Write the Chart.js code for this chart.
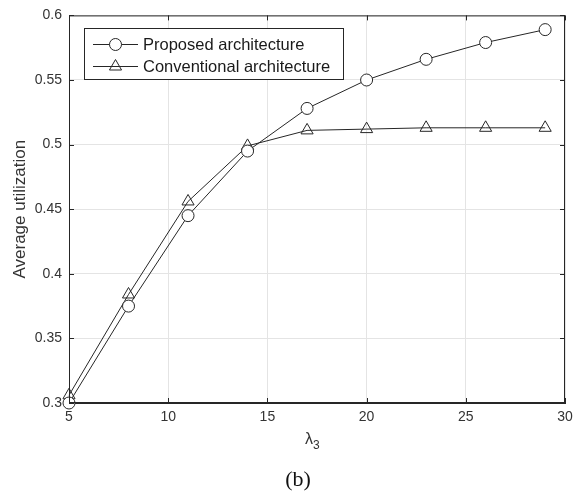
<!DOCTYPE html>
<html>
<head>
<meta charset="utf-8">
<script src="https://cdn.jsdelivr.net/npm/chart.js@4.4.1/dist/chart.umd.min.js"></script>
<style>
    html, body { margin: 0; padding: 0; background: #fff; }
    #wrap { position: relative; width: 583px; height: 491px; }
</style>
</head>
<body>
<div id="wrap"><canvas id="utilChart" width="583" height="491"></canvas></div>
<script>
// Arrival rate lambda_3 on the x axis
const lambda3 = [5, 8, 11, 14, 17, 20, 23, 26, 29];

// Average utilization per architecture
const proposed = [0.300, 0.375, 0.445, 0.495, 0.528, 0.550, 0.566, 0.579, 0.589];
const conventional = [0.306, 0.384, 0.456, 0.499, 0.511, 0.512, 0.513, 0.513, 0.513];

const seriesNames = ['Proposed architecture', 'Conventional architecture'];
const xTicks = [5, 10, 15, 20, 25, 30];
const yTicks = ['0.3', '0.35', '0.4', '0.45', '0.5', '0.55', '0.6'];

const AXIS = '#262626';
const TEXT = '#333333';
const FONT = '"Liberation Sans", Arial, sans-serif';

// box around plot, inward tick marks, in-plot legend and caption
const matlabStyle = {
    id: 'matlabStyle',
    afterDatasetsDraw(chart) {
        const { ctx, chartArea: a, scales } = chart;
        ctx.save();
        ctx.strokeStyle = AXIS;
        ctx.lineWidth = 1;
        ctx.strokeRect(a.left + 0.5, a.top + 0.5, a.right - a.left - 1, a.bottom - a.top - 1);

        ctx.beginPath();
        xTicks.forEach(v => {
            const px = Math.round(scales.x.getPixelForValue(v)) + 0.5;
            ctx.moveTo(px, a.bottom); ctx.lineTo(px, a.bottom - 5);
            ctx.moveTo(px, a.top); ctx.lineTo(px, a.top + 5);
        });
        yTicks.forEach(t => {
            const py = Math.round(scales.y.getPixelForValue(parseFloat(t))) + 0.5;
            ctx.moveTo(a.left, py); ctx.lineTo(a.left + 5, py);
            ctx.moveTo(a.right, py); ctx.lineTo(a.right - 5, py);
        });
        ctx.stroke();

        // legend box
        const lx = 84, ly = 28, lw = 259, lh = 51;
        ctx.fillStyle = '#fff';
        ctx.fillRect(lx, ly, lw, lh);
        ctx.strokeRect(lx + 0.5, ly + 0.5, lw, lh);
        const styles = ['circle', 'triangle'];
        seriesNames.forEach((name, i) => {
            const cy = ly + 16 + i * 22;
            ctx.beginPath();
            ctx.moveTo(93, cy + 0.5); ctx.lineTo(138, cy + 0.5);
            ctx.strokeStyle = AXIS;
            ctx.stroke();
            ctx.fillStyle = i === 0 ? '#fff' : 'rgba(255,255,255,0)';
            Chart.helpers.drawPoint(ctx, {
                pointStyle: styles[i], radius: i === 0 ? 6 : 7, borderWidth: 1
            }, 115.5, cy + 0.5);
            ctx.fillStyle = '#1a1a1a';
            ctx.font = '16.5px ' + FONT;
            ctx.textBaseline = 'middle';
            ctx.textAlign = 'left';
            ctx.fillText(name, 143, cy + 1);
        });

        // x axis label with subscript
        const cx = (a.left + a.right) / 2;
        ctx.fillStyle = TEXT;
        ctx.font = '16px ' + FONT;
        ctx.textAlign = 'right';
        ctx.textBaseline = 'alphabetic';
        ctx.fillText('\u03bb', cx - 4, 444);
        ctx.font = '12px ' + FONT;
        ctx.textAlign = 'left';
        ctx.fillText('3', cx - 4, 449);

        // caption
        ctx.fillStyle = '#111';
        ctx.font = '22px "Liberation Serif", "Times New Roman", serif';
        ctx.textAlign = 'center';
        ctx.fillText('(b)', 298, 486);
        ctx.restore();
    }
};

new Chart(document.getElementById('utilChart'), {
    type: 'line',
    data: {
        labels: lambda3,
        datasets: [
            {
                label: seriesNames[0],
                data: lambda3.map((x, i) => ({ x, y: proposed[i] })),
                borderColor: AXIS,
                borderWidth: 1,
                pointStyle: 'circle',
                pointRadius: 6,
                pointBorderColor: AXIS,
                pointBackgroundColor: '#fff',
                pointBorderWidth: 1,
                tension: 0,
                clip: false
            },
            {
                label: seriesNames[1],
                data: lambda3.map((x, i) => ({ x, y: conventional[i] })),
                borderColor: AXIS,
                borderWidth: 1,
                pointStyle: 'triangle',
                pointRadius: 7,
                pointBorderColor: AXIS,
                pointBackgroundColor: 'rgba(255,255,255,0)',
                pointBorderWidth: 1,
                tension: 0,
                clip: false
            }
        ]
    },
    options: {
        responsive: false,
        animation: false,
        layout: { padding: { top: 13, right: 18, bottom: 38, left: 0 } },
        plugins: {
            legend: { display: false },
            tooltip: { enabled: false }
        },
        scales: {
            x: {
                type: 'linear',
                min: 5,
                max: 30,
                afterFit: s => { s.height = 50; },
                afterBuildTicks: s => { s.ticks = xTicks.map(v => ({ value: v })); },
                ticks: {
                    color: TEXT,
                    font: { family: FONT, size: 14 },
                    padding: 6,
                    maxRotation: 0,
                    callback: v => String(v)
                },
                grid: { color: '#e4e4e4', lineWidth: 1, drawTicks: false },
                border: { color: AXIS }
            },
            y: {
                type: 'linear',
                min: 0.3,
                max: 0.6,
                afterFit: s => { s.width = 69; },
                afterBuildTicks: s => { s.ticks = yTicks.map(t => ({ value: parseFloat(t) })); },
                ticks: {
                    color: TEXT,
                    font: { family: FONT, size: 14 },
                    padding: 7,
                    callback: v => yTicks.find(t => Math.abs(parseFloat(t) - v) < 1e-9) || ''
                },
                title: {
                    display: true,
                    text: 'Average utilization',
                    color: TEXT,
                    font: { family: FONT, size: 17 },
                    padding: { top: 10, bottom: 4 }
                },
                grid: { color: '#e4e4e4', lineWidth: 1, drawTicks: false },
                border: { color: AXIS }
            }
        }
    },
    plugins: [matlabStyle]
});
</script>
</body>
</html>
